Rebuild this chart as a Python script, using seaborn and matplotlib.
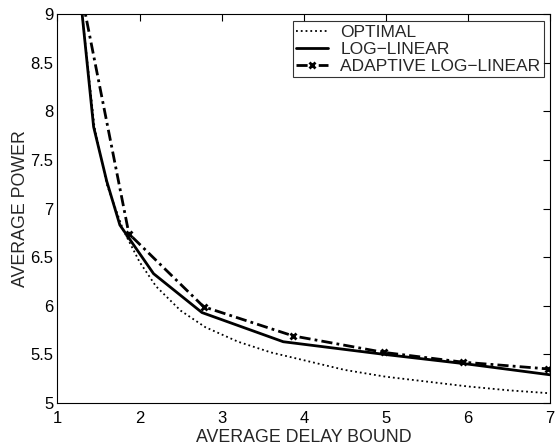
import matplotlib
matplotlib.use("Agg")
import matplotlib.pyplot as plt
import seaborn as sns
import pandas as pd

# Data
opt_x = [1.30, 1.45, 1.60, 1.80, 2.00, 2.20, 2.50, 2.80, 3.20, 3.60, 4.00, 4.50, 5.00, 5.50, 6.00, 6.50, 7.00]
opt_y = [9.00, 7.84, 7.25, 6.78, 6.45, 6.20, 5.95, 5.78, 5.63, 5.52, 5.44, 5.34, 5.27, 5.22, 5.17, 5.13, 5.10]

ll_x = [1.30, 1.44, 1.60, 1.76, 2.17, 2.76, 3.75, 4.98, 6.00, 7.00]
ll_y = [9.00, 7.84, 7.28, 6.83, 6.33, 5.93, 5.63, 5.50, 5.40, 5.29]

all_x = [1.30, 1.87, 2.78, 3.87, 4.98, 5.94, 6.98]
all_y = [9.17, 6.74, 5.99, 5.69, 5.52, 5.42, 5.35]

labels = ["OPTIMAL", "LOG\u2212LINEAR", "ADAPTIVE LOG\u2212LINEAR"]
x_ticks = [1, 2, 3, 4, 5, 6, 7]
y_ticks = [5, 5.5, 6, 6.5, 7, 7.5, 8, 8.5, 9]

sns.set_style("white")
plt.rcParams['font.family'] = ['Liberation Sans', 'DejaVu Sans']

df_opt = pd.DataFrame({"x": opt_x, "y": opt_y})
df_ll = pd.DataFrame({"x": ll_x, "y": ll_y})
df_all = pd.DataFrame({"x": all_x, "y": all_y})

fig = plt.figure(figsize=(5.55, 4.45), dpi=100)
ax = fig.add_axes([0.1036, 0.0944, 0.8874, 0.8741])

sns.lineplot(data=df_opt, x="x", y="y", ax=ax, sort=False, color="black",
             linestyle=":", linewidth=1.3, label=labels[0])
sns.lineplot(data=df_ll, x="x", y="y", ax=ax, sort=False, color="black",
             linestyle="-", linewidth=2.0, label=labels[1])
sns.lineplot(data=df_all, x="x", y="y", ax=ax, sort=False, color="black",
             linestyle=(0, (4, 1.5, 1, 1.5)), linewidth=2.0, marker="x",
             markersize=5, markeredgewidth=2.0, markeredgecolor="black",
             markerfacecolor="black", label=labels[2])

ax.set_xlim(1, 7)
ax.set_ylim(5, 9)
ax.set_xticks(x_ticks)
ax.set_xticklabels([str(v) for v in x_ticks])
ax.set_yticks(y_ticks)
ax.set_yticklabels([f"{v:g}" for v in y_ticks])
ax.tick_params(direction="in", length=5, width=0.8, top=True, right=True,
               labelsize=12, pad=3, colors="black")
ax.tick_params(axis="x", pad=6)
for s in ax.spines.values():
    s.set_color("black")
    s.set_linewidth(0.8)

ax.set_xlabel("AVERAGE DELAY BOUND", fontsize=12.8, labelpad=2)
ax.set_ylabel("AVERAGE POWER", fontsize=12.8, labelpad=1)

leg = ax.legend(loc="upper right", bbox_to_anchor=(0.995, 0.99), fontsize=12.5,
                frameon=True, fancybox=False, edgecolor="black",
                handlelength=1.85, handletextpad=0.7, borderpad=0.2,
                labelspacing=0.1, borderaxespad=0.2)
leg.get_frame().set_linewidth(0.8)

fig.savefig("out.png", dpi=100)
